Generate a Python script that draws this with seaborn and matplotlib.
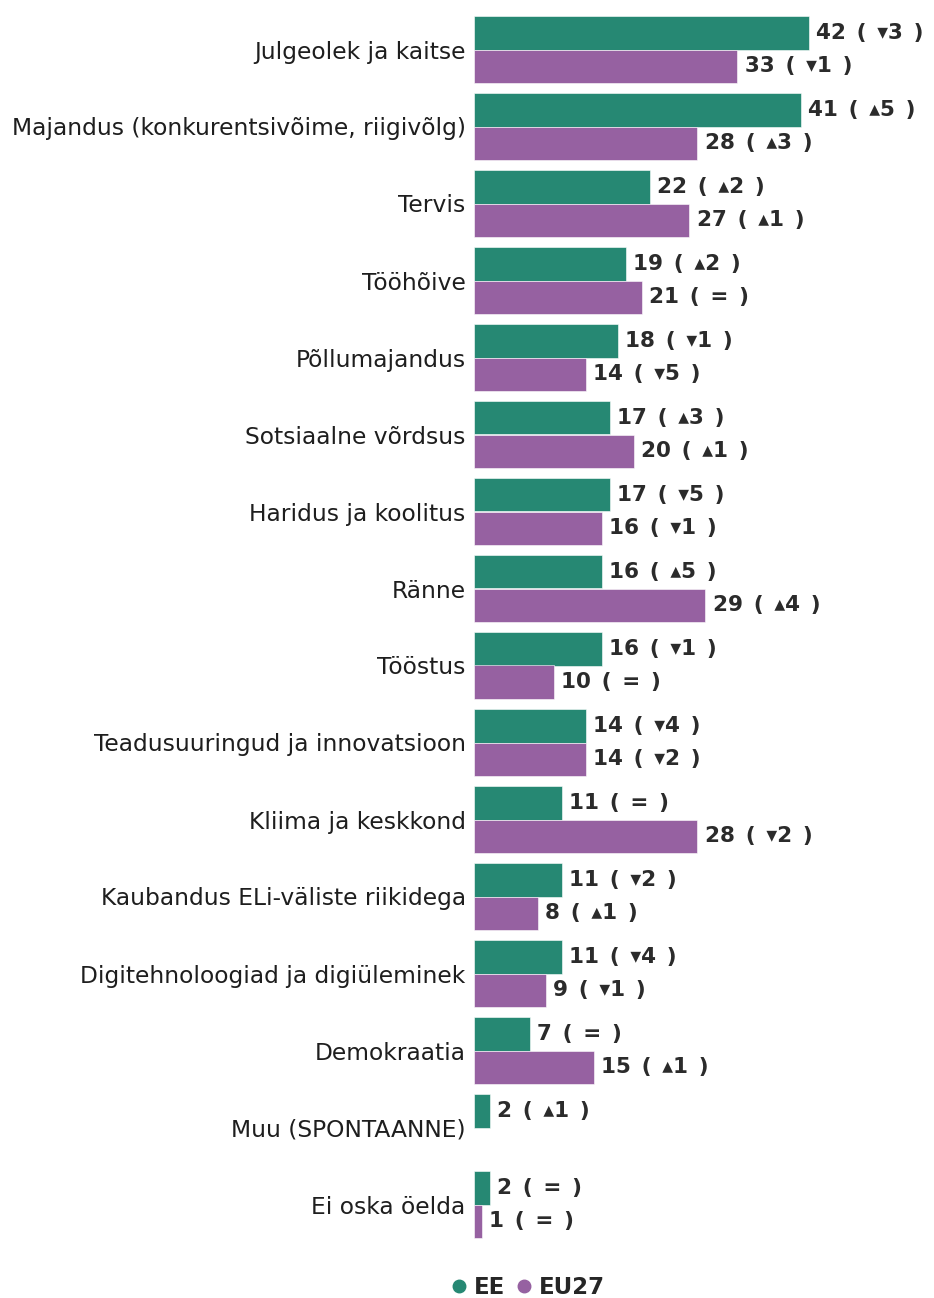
import pandas as pd
import numpy as np
import matplotlib.pyplot as plt
from matplotlib.lines import Line2D
import seaborn as sns

categories = ['Julgeolek ja kaitse', 'Majandus (konkurentsivõime, riigivõlg)', 'Tervis',
              'Tööhõive', 'Põllumajandus', 'Sotsiaalne võrdsus', 'Haridus ja koolitus',
              'Ränne', 'Tööstus', 'Teadusuuringud ja innovatsioon', 'Kliima ja keskkond',
              'Kaubandus ELi-väliste riikidega', 'Digitehnoloogiad ja digiüleminek',
              'Demokraatia', 'Muu (SPONTAANNE)', 'Ei oska öelda']
ee_values = [42, 41, 22, 19, 18, 17, 17, 16, 16, 14, 11, 11, 11, 7, 2, 2]
eu_values = [33, 28, 27, 21, 14, 20, 16, 29, 10, 14, 28, 8, 9, 15, np.nan, 1]
ee_change = [-3, 5, 2, 2, -1, 3, -5, 5, -1, -4, 0, -2, -4, 0, 1, 0]
eu_change = [-1, 3, 1, 0, -5, 1, -1, 4, 0, -2, -2, 1, -1, 1, None, 0]
series = ['EE', 'EU27']
colors = {'EE': '#268873', 'EU27': '#9661a1'}

df = pd.DataFrame({
    'category': categories * 2,
    'series': ['EE'] * len(categories) + ['EU27'] * len(categories),
    'value': ee_values + eu_values,
})

sns.set_style('white')
plt.rcParams['font.family'] = ['DejaVu Sans']

fig = plt.figure(figsize=(9.34, 12.98), dpi=100)
ax = fig.add_axes([474 / 934, 1 - 1243 / 1298, 455 / 934, 1232 / 1298])

sns.barplot(data=df, y='category', x='value', hue='series', order=categories,
            hue_order=series, palette=colors, saturation=1, orient='h', width=0.87,
            edgecolor='white', linewidth=0.4, ax=ax, legend=False)

ax.set_xlim(0, 455 / 7.98)
ax.set_ylim(len(categories) - 0.5, -0.5)
ax.set_xlabel('')
ax.set_ylabel('')
ax.set_xticks([])
ax.tick_params(axis='y', length=0, pad=6, labelsize=16.8, labelcolor='#1e1e1e')
sns.despine(ax=ax, left=True, bottom=True)

sp = '\u2002'


def change_text(d):
    if d == 0:
        return '='
    return ('\u25b4' if d > 0 else '\u25be') + str(abs(d))


changes = {'EE': ee_change, 'EU27': eu_change}
for name, cont in zip(series, ax.containers):
    for patch in cont.patches:
        w = patch.get_width()
        if np.isnan(w) or w <= 0:
            continue
        yc = patch.get_y() + patch.get_height() / 2
        idx = int(round(yc))
        d = changes[name][idx]
        if d is None:
            continue
        ax.text(w + 0.9, yc, f'{int(w)}{sp}({sp}{change_text(d)}{sp})', va='center', ha='left',
                fontsize=15.5, fontweight='bold', color='#2b2b2b')

handles = [Line2D([], [], marker='o', linestyle='', markersize=9,
                  markerfacecolor=colors[s], markeredgecolor=colors[s]) for s in series]
fig.legend(handles, series, loc='center', bbox_to_anchor=(528 / 934, 1 - 1288 / 1298),
           ncol=2, frameon=False, handlelength=0.7, handletextpad=0.3, columnspacing=0.5,
           prop={'weight': 'bold', 'size': 16.5})

fig.savefig('out.png', dpi=100)
